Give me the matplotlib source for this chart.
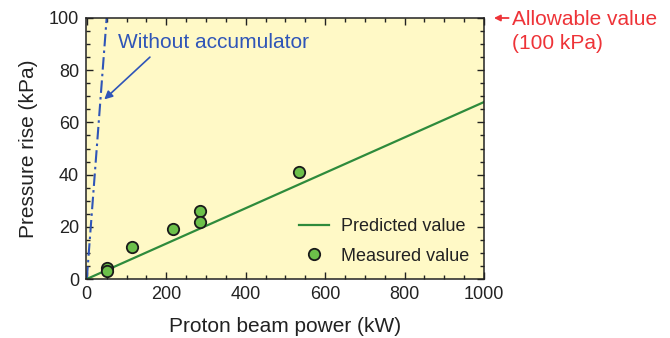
import matplotlib
matplotlib.use('Agg')
import matplotlib.pyplot as plt
import numpy as np
from matplotlib.ticker import MultipleLocator

plt.rcParams['font.family'] = ['Liberation Sans', 'DejaVu Sans']

# measured points (kW, kPa)
meas_power = [50, 50, 113, 216, 284, 284, 535]
meas_press = [4.3, 3.1, 12.3, 19.1, 26.2, 22.0, 40.9]

# predicted value line
pred_power = [0, 1000]
pred_press = [0, 67.8]

# without accumulator
noacc_power = [0, 50]
noacc_press = [0, 100]

fig = plt.figure(figsize=(6.7, 3.38), dpi=100)
ax = fig.add_axes([86/670, 1-279/338, (484-86)/670, (279-18)/338])
ax.set_facecolor('#fff9c6')

ax.plot(noacc_power, noacc_press, color='#2f55b8', lw=1.5, ls='-.', dashes=(6, 2, 1.2, 2))
ax.plot(pred_power, pred_press, color='#2e8b3c', lw=1.6, label='Predicted value')
ax.plot(meas_power, meas_press, 'o', ms=8.2, mfc='#6cc04a', mec='#1a1a1a', mew=1.3,
        ls='none', label='Measured value', zorder=5, clip_on=False)

ax.set_xlim(-2, 1000)
ax.set_ylim(0, 100)
ax.xaxis.set_major_locator(MultipleLocator(200))
ax.xaxis.set_minor_locator(MultipleLocator(50))
ax.yaxis.set_major_locator(MultipleLocator(20))
ax.yaxis.set_minor_locator(MultipleLocator(5))
ax.tick_params(which='both', direction='in', top=True, right=True, labelsize=13,
               colors='#222222', width=1)
ax.tick_params(which='major', length=5, pad=5)
ax.tick_params(which='minor', length=3)
for s in ax.spines.values():
    s.set_linewidth(1.1)
    s.set_color('#222222')

ax.set_xlabel('Proton beam power (kW)', fontsize=15, color='#222222', labelpad=10)
ax.set_ylabel('Pressure rise (kPa)', fontsize=15, color='#222222', labelpad=8)

ax.annotate('Without accumulator', xy=(44, 68.8), xytext=(78, 90.8),
            fontsize=15, color='#2f55b8', va='center', ha='left',
            arrowprops=dict(arrowstyle='-|>', color='#2f55b8', lw=1.2,
                            mutation_scale=12, shrinkA=3, shrinkB=0,
                            relpos=(0.2, 0.0)))

ax.annotate('', xy=(1025, 100), xytext=(1062, 100),
            xycoords='data', textcoords='data', annotation_clip=False,
            arrowprops=dict(arrowstyle='-|>', color='#ee3338', lw=1.3,
                            mutation_scale=9, shrinkA=0, shrinkB=0))
ax.text(1070, 99.6, 'Allowable value', fontsize=15, color='#ee3338', va='center',
        ha='left', clip_on=False)
ax.text(1070, 90.4, '(100 kPa)', fontsize=15, color='#ee3338', va='center',
        ha='left', clip_on=False)

ax.legend(loc='lower right', frameon=False, fontsize=13, handlelength=1.65,
          handletextpad=0.7, labelspacing=0.7, borderaxespad=0.4,
          labelcolor='#222222')

fig.savefig('out.png', dpi=100)
